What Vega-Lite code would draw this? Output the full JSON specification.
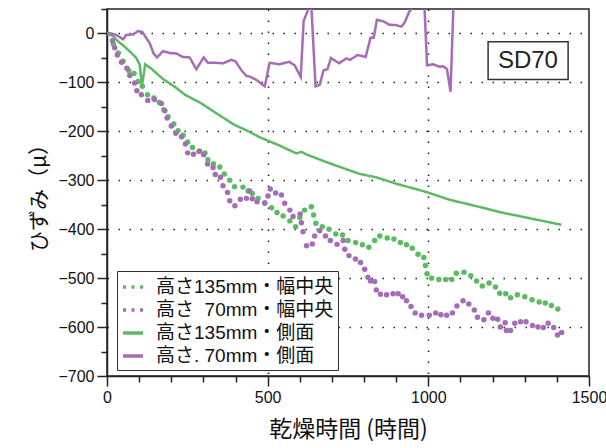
{
  "$schema": "https://vega.github.io/schema/vega-lite/v6.json",
  "width": 482,
  "height": 367,
  "autosize": {"type": "none"},
  "padding": {"left": 107, "top": 9, "right": 17, "bottom": 72},
  "background": "white",
  "config": {
    "font": "Liberation Sans, Noto Sans CJK JP",
    "view": {"stroke": "#222", "strokeWidth": 1.5},
    "axis": {
      "domainColor": "#222",
      "domainWidth": 1.5,
      "tickColor": "#222",
      "tickWidth": 1.5,
      "labelColor": "#111",
      "titleColor": "#111",
      "labelFont": "Liberation Sans",
      "labelFontSize": 16,
      "titleFont": "Noto Sans CJK JP",
      "titleFontWeight": "normal",
      "titleFontSize": 21,
      "gridColor": "#222",
      "gridWidth": 1.5,
      "gridDash": [1.5, 9.5],
      "labelOverlap": false,
      "labelFlush": false
    }
  },
  "resolve": {"axis": {"x": "independent", "y": "independent"}},
  "datasets": {
    "box": [{"x": 1186, "x2": 1435, "y": -17, "y2": -94, "label": "SD70", "tx": 1310, "ty": -56}],
    "green_line": [
      {"t": 0, "v": 0}, {"t": 20, "v": -6}, {"t": 34, "v": -16}, {"t": 55, "v": -27}, {"t": 76, "v": -40},
      {"t": 91, "v": -50}, {"t": 102, "v": -64}, {"t": 109, "v": -106}, {"t": 119, "v": -63},
      {"t": 138, "v": -72}, {"t": 174, "v": -93}, {"t": 211, "v": -109}, {"t": 242, "v": -125},
      {"t": 268, "v": -134}, {"t": 289, "v": -141}, {"t": 340, "v": -163}, {"t": 397, "v": -187},
      {"t": 434, "v": -198}, {"t": 475, "v": -212}, {"t": 537, "v": -229}, {"t": 579, "v": -242},
      {"t": 589, "v": -245}, {"t": 605, "v": -242}, {"t": 620, "v": -247}, {"t": 683, "v": -263},
      {"t": 786, "v": -287}, {"t": 838, "v": -294}, {"t": 900, "v": -307}, {"t": 994, "v": -324},
      {"t": 1067, "v": -340}, {"t": 1150, "v": -353}, {"t": 1222, "v": -365}, {"t": 1326, "v": -379},
      {"t": 1414, "v": -391}
    ],
    "purple_line": [
      {"t": 0, "v": 2}, {"t": 29, "v": -3}, {"t": 50, "v": -12}, {"t": 60, "v": -3}, {"t": 81, "v": -2},
      {"t": 97, "v": 5}, {"t": 110, "v": 3}, {"t": 133, "v": -20}, {"t": 145, "v": -41}, {"t": 156, "v": -49},
      {"t": 174, "v": -36}, {"t": 195, "v": -40}, {"t": 216, "v": -41}, {"t": 236, "v": -48},
      {"t": 257, "v": -49}, {"t": 278, "v": -73}, {"t": 301, "v": -49}, {"t": 314, "v": -60},
      {"t": 340, "v": -60}, {"t": 361, "v": -61}, {"t": 387, "v": -54}, {"t": 400, "v": -57},
      {"t": 418, "v": -75}, {"t": 434, "v": -87}, {"t": 444, "v": -88}, {"t": 465, "v": -95},
      {"t": 491, "v": -108}, {"t": 506, "v": -60}, {"t": 537, "v": -63}, {"t": 567, "v": -58},
      {"t": 584, "v": -65}, {"t": 603, "v": -89}, {"t": 612, "v": 26}, {"t": 624, "v": 45},
      {"t": 630, "v": 80}, {"t": 634, "v": 80}, {"t": 649, "v": -108}, {"t": 662, "v": -105},
      {"t": 674, "v": -75}, {"t": 686, "v": -73}, {"t": 697, "v": -50}, {"t": 722, "v": -61},
      {"t": 745, "v": -51}, {"t": 756, "v": -54}, {"t": 780, "v": -44}, {"t": 805, "v": -48},
      {"t": 820, "v": -9}, {"t": 830, "v": -9}, {"t": 840, "v": 28}, {"t": 859, "v": 25},
      {"t": 879, "v": 18}, {"t": 900, "v": 17}, {"t": 916, "v": 14}, {"t": 926, "v": 22},
      {"t": 940, "v": 44}, {"t": 962, "v": 60}, {"t": 987, "v": 70}, {"t": 996, "v": -65},
      {"t": 1015, "v": -63}, {"t": 1035, "v": -68}, {"t": 1046, "v": -67}, {"t": 1058, "v": -73},
      {"t": 1069, "v": -119}, {"t": 1082, "v": 130}
    ],
    "green_dots": [
      {"t": 20, "v": -22}, {"t": 35, "v": -40}, {"t": 50, "v": -57}, {"t": 68, "v": -76}, {"t": 84, "v": -82},
      {"t": 97, "v": -98}, {"t": 110, "v": -108}, {"t": 126, "v": -125}, {"t": 146, "v": -132},
      {"t": 163, "v": -141}, {"t": 177, "v": -156}, {"t": 190, "v": -170}, {"t": 208, "v": -185},
      {"t": 221, "v": -199}, {"t": 237, "v": -208}, {"t": 251, "v": -222}, {"t": 266, "v": -233},
      {"t": 286, "v": -241}, {"t": 305, "v": -244}, {"t": 314, "v": -258}, {"t": 331, "v": -266},
      {"t": 351, "v": -273}, {"t": 365, "v": -287}, {"t": 382, "v": -300}, {"t": 397, "v": -313},
      {"t": 423, "v": -314}, {"t": 439, "v": -322}, {"t": 452, "v": -327}, {"t": 470, "v": -337},
      {"t": 491, "v": -346}, {"t": 512, "v": -356}, {"t": 529, "v": -366}, {"t": 548, "v": -373},
      {"t": 569, "v": -383}, {"t": 587, "v": -395}, {"t": 600, "v": -376}, {"t": 615, "v": -361},
      {"t": 636, "v": -354}, {"t": 643, "v": -371}, {"t": 650, "v": -388}, {"t": 670, "v": -395},
      {"t": 691, "v": -400}, {"t": 712, "v": -410}, {"t": 733, "v": -412}, {"t": 750, "v": -423},
      {"t": 774, "v": -427}, {"t": 795, "v": -432}, {"t": 815, "v": -437}, {"t": 833, "v": -423},
      {"t": 849, "v": -414}, {"t": 872, "v": -418}, {"t": 893, "v": -420}, {"t": 913, "v": -427},
      {"t": 932, "v": -432}, {"t": 950, "v": -439}, {"t": 968, "v": -451}, {"t": 986, "v": -458},
      {"t": 991, "v": -474}, {"t": 996, "v": -491}, {"t": 1010, "v": -500}, {"t": 1033, "v": -503},
      {"t": 1054, "v": -503}, {"t": 1073, "v": -503}, {"t": 1087, "v": -490}, {"t": 1111, "v": -488},
      {"t": 1132, "v": -495}, {"t": 1150, "v": -506}, {"t": 1168, "v": -516}, {"t": 1189, "v": -510},
      {"t": 1209, "v": -518}, {"t": 1222, "v": -531}, {"t": 1241, "v": -532}, {"t": 1256, "v": -540},
      {"t": 1277, "v": -534}, {"t": 1300, "v": -538}, {"t": 1323, "v": -544}, {"t": 1345, "v": -549},
      {"t": 1364, "v": -551}, {"t": 1383, "v": -556}, {"t": 1403, "v": -563}
    ],
    "purple_dots": [
      {"t": 17, "v": -15}, {"t": 24, "v": -29}, {"t": 32, "v": -44}, {"t": 45, "v": -59}, {"t": 62, "v": -71},
      {"t": 71, "v": -86}, {"t": 86, "v": -101}, {"t": 93, "v": -117}, {"t": 107, "v": -125},
      {"t": 127, "v": -137}, {"t": 148, "v": -135}, {"t": 169, "v": -143}, {"t": 180, "v": -158},
      {"t": 187, "v": -173}, {"t": 200, "v": -189}, {"t": 214, "v": -204}, {"t": 232, "v": -211},
      {"t": 244, "v": -226}, {"t": 251, "v": -244}, {"t": 269, "v": -247}, {"t": 288, "v": -240},
      {"t": 301, "v": -248}, {"t": 313, "v": -267}, {"t": 330, "v": -274}, {"t": 337, "v": -288},
      {"t": 353, "v": -294}, {"t": 361, "v": -311}, {"t": 375, "v": -325}, {"t": 382, "v": -342},
      {"t": 398, "v": -352}, {"t": 415, "v": -339}, {"t": 434, "v": -337}, {"t": 444, "v": -322},
      {"t": 452, "v": -338}, {"t": 467, "v": -344}, {"t": 491, "v": -347}, {"t": 501, "v": -332},
      {"t": 508, "v": -318}, {"t": 525, "v": -326}, {"t": 543, "v": -330}, {"t": 553, "v": -347},
      {"t": 569, "v": -361}, {"t": 579, "v": -374}, {"t": 601, "v": -369}, {"t": 605, "v": -387},
      {"t": 610, "v": -405}, {"t": 621, "v": -434}, {"t": 639, "v": -430}, {"t": 646, "v": -414},
      {"t": 662, "v": -403}, {"t": 680, "v": -414}, {"t": 695, "v": -423}, {"t": 716, "v": -431},
      {"t": 735, "v": -423}, {"t": 740, "v": -441}, {"t": 753, "v": -454}, {"t": 773, "v": -461},
      {"t": 789, "v": -468}, {"t": 802, "v": -482}, {"t": 812, "v": -498}, {"t": 820, "v": -506},
      {"t": 833, "v": -507}, {"t": 838, "v": -524}, {"t": 851, "v": -533}, {"t": 870, "v": -534},
      {"t": 890, "v": -532}, {"t": 906, "v": -532}, {"t": 920, "v": -538}, {"t": 932, "v": -546},
      {"t": 946, "v": -558}, {"t": 959, "v": -571}, {"t": 979, "v": -576}, {"t": 1003, "v": -576},
      {"t": 1023, "v": -571}, {"t": 1039, "v": -575}, {"t": 1057, "v": -576}, {"t": 1075, "v": -571},
      {"t": 1089, "v": -557}, {"t": 1108, "v": -546}, {"t": 1126, "v": -553}, {"t": 1143, "v": -565},
      {"t": 1153, "v": -580}, {"t": 1173, "v": -585}, {"t": 1187, "v": -571}, {"t": 1201, "v": -582},
      {"t": 1216, "v": -584}, {"t": 1224, "v": -600}, {"t": 1239, "v": -591}, {"t": 1243, "v": -607},
      {"t": 1256, "v": -607}, {"t": 1269, "v": -592}, {"t": 1287, "v": -589}, {"t": 1304, "v": -589},
      {"t": 1324, "v": -597}, {"t": 1341, "v": -600}, {"t": 1358, "v": -601}, {"t": 1373, "v": -592},
      {"t": 1390, "v": -601}, {"t": 1402, "v": -616}, {"t": 1415, "v": -611}
    ]
  },
  "layer": [
    {
      "data": {"name": "box"},
      "mark": {"type": "rect", "fill": "white", "stroke": "#333", "strokeWidth": 1.5},
      "encoding": {
        "x": {"field": "x", "type": "quantitative", "scale": {"domain": [0, 1500], "nice": false, "zero": false},
          "axis": {
            "orient": "bottom",
            "title": "乾燥時間 (時間)",
            "titleFontSize": 23,
            "values": [0, 100, 200, 300, 400, 500, 600, 700, 800, 900, 1000, 1100, 1200, 1300, 1400, 1500],
            "labelExpr": "datum.value % 500 === 0 ? format(datum.value, 'd') : ''",
            "tickSize": {"condition": {"test": "datum.value % 500 === 0", "value": 10}, "value": 6},
            "labelPadding": 3,
            "titlePadding": 13,
            "grid": true,
            "gridOpacity": {"condition": {"test": "datum.value === 500 || datum.value === 1000", "value": 1}, "value": 0}
          }},
        "x2": {"field": "x2"},
        "y": {"field": "y", "type": "quantitative", "scale": {"domain": [-700, 50], "nice": false, "zero": false},
          "axis": {
            "orient": "left",
            "title": "ひずみ（μ）",
            "values": [-700, -650, -600, -550, -500, -450, -400, -350, -300, -250, -200, -150, -100, -50, 0, 50],
            "labelExpr": "datum.value % 100 === 0 ? datum.label : ''",
            "tickSize": {"condition": {"test": "datum.value % 100 === 0", "value": 10}, "value": 6},
            "labelPadding": 3,
            "titlePadding": 8,
            "grid": true,
            "gridOpacity": {"condition": {"test": "datum.value % 100 === 0 && datum.value > -700", "value": 1}, "value": 0}
          }},
        "y2": {"field": "y2"}
      }
    },
    {
      "data": {"name": "box"},
      "mark": {"type": "text", "fontSize": 24, "font": "Liberation Sans", "color": "#222", "align": "center", "baseline": "middle"},
      "encoding": {
        "x": {"field": "tx", "type": "quantitative", "axis": null},
        "y": {"field": "ty", "type": "quantitative", "axis": null},
        "text": {"field": "label"}
      }
    },
    {
      "data": {"name": "green_line"},
      "mark": {"type": "line", "strokeWidth": 2.5, "clip": true},
      "encoding": {
        "x": {"field": "t", "type": "quantitative", "axis": null},
        "y": {"field": "v", "type": "quantitative", "axis": null},
        "color": {
          "datum": "高さ135mm・側面",
          "type": "nominal",
          "scale": {
            "domain": ["高さ135mm・幅中央", "高さ\u200770mm・幅中央", "高さ135mm・側面", "高さ. 70mm・側面"],
            "range": ["#5cbb62", "#a46db6", "#5cbb62", "#a46db6"]
          },
          "legend": {
            "title": null,
            "orient": "none",
            "legendX": 10,
            "legendY": 262,
            "symbolType": "stroke",
            "symbolSize": 400,
            "symbolStrokeWidth": 3.5,
            "symbolOpacity": 1,
            "labelFont": "Liberation Sans, Noto Sans CJK JP",
            "labelFontSize": 19,
            "labelColor": "#111",
            "labelLimit": 400,
            "labelOffset": 11,
            "rowPadding": 1,
            "padding": 4,
            "strokeColor": "#333",
            "fillColor": "white"
          }
        },
        "strokeDash": {
          "datum": "高さ135mm・側面",
          "type": "nominal",
          "scale": {
            "domain": ["高さ135mm・幅中央", "高さ\u200770mm・幅中央", "高さ135mm・側面", "高さ. 70mm・側面"],
            "range": [[3, 5.5], [3, 5.5], [1, 0], [1, 0]]
          },
          "legend": {
            "title": null,
            "orient": "none",
            "legendX": 10,
            "legendY": 262,
            "symbolType": "stroke",
            "symbolSize": 400,
            "symbolStrokeWidth": 3.5,
            "labelFont": "Liberation Sans, Noto Sans CJK JP",
            "labelFontSize": 19,
            "labelColor": "#111",
            "labelLimit": 400,
            "labelOffset": 11,
            "rowPadding": 1,
            "padding": 4,
            "strokeColor": "#333",
            "fillColor": "white"
          }
        }
      }
    },
    {
      "data": {"name": "purple_line"},
      "mark": {"type": "line", "strokeWidth": 2.5, "clip": true},
      "encoding": {
        "x": {"field": "t", "type": "quantitative", "axis": null},
        "y": {"field": "v", "type": "quantitative", "axis": null},
        "color": {"datum": "高さ. 70mm・側面", "type": "nominal"},
        "strokeDash": {"datum": "高さ. 70mm・側面", "type": "nominal"}
      }
    },
    {
      "data": {"name": "green_dots"},
      "mark": {"type": "circle", "size": 30, "opacity": 1, "clip": true},
      "encoding": {
        "x": {"field": "t", "type": "quantitative", "axis": null},
        "y": {"field": "v", "type": "quantitative", "axis": null},
        "color": {"datum": "高さ135mm・幅中央", "type": "nominal"}
      }
    },
    {
      "data": {"name": "purple_dots"},
      "mark": {"type": "circle", "size": 30, "opacity": 1, "clip": true},
      "encoding": {
        "x": {"field": "t", "type": "quantitative", "axis": null},
        "y": {"field": "v", "type": "quantitative", "axis": null},
        "color": {"datum": "高さ\u200770mm・幅中央", "type": "nominal"}
      }
    }
  ]
}
